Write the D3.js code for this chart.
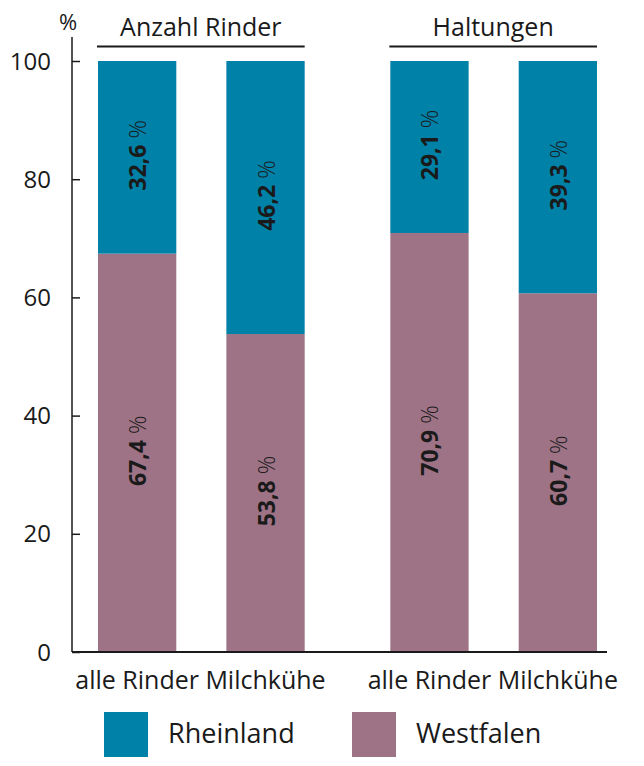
<!DOCTYPE html>
<html>
<head>
<meta charset="utf-8">
<script src="https://cdn.jsdelivr.net/npm/d3@7"></script>
<style>
  body { margin: 0; background: #fff; }
  text { font-family: "Open Sans", sans-serif; fill: #1a1a1a; }
</style>
</head>
<body>
<div id="chart"></div>
<script>
let groups = ["Anzahl Rinder", "Haltungen"];
let categories = ["alle Rinder", "Milchkühe"];
let rheinland = [32.6, 46.2, 29.1, 39.3];
let westfalen = [67.4, 53.8, 70.9, 60.7];
let yTicks = [0, 20, 40, 60, 80, 100];
let seriesNames = ["Rheinland", "Westfalen"];
let colors = ["#0081a7", "#9e7386"];

let width = 644;
let height = 766;

let svg = d3.select("#chart")
    .append("svg")
    .attr("width", width)
    .attr("height", height);

// scales
let yScale = d3.scaleLinear()
    .domain([0, 100])
    .range([652, 61]);

let groupScale = d3.scaleBand()
    .domain(groups)
    .range([98, 597])
    .paddingInner(0.293);

let catScale = d3.scaleBand()
    .domain(categories)
    .range([0, groupScale.bandwidth()])
    .paddingInner(0.39);

let bars = [];
groups.forEach((g, gi) => {
    categories.forEach((c, ci) => {
        let i = gi * categories.length + ci;
        bars.push({
            group: g,
            cat: c,
            x: groupScale(g) + catScale(c),
            west: westfalen[i],
            rhein: rheinland[i]
        });
    });
});

let fmt = (v) => String(v).replace(".", ",");

// Westfalen segments
svg.selectAll(".west")
    .data(bars)
    .enter()
    .append("rect")
    .attr("x", (d) => d.x)
    .attr("width", catScale.bandwidth())
    .attr("y", (d) => yScale(d.west))
    .attr("height", (d) => yScale(0) - yScale(d.west))
    .attr("fill", colors[1]);

// Rheinland segments
svg.selectAll(".rhein")
    .data(bars)
    .enter()
    .append("rect")
    .attr("x", (d) => d.x)
    .attr("width", catScale.bandwidth())
    .attr("y", (d) => yScale(d.west + d.rhein))
    .attr("height", (d) => yScale(d.west) - yScale(d.west + d.rhein))
    .attr("fill", colors[0]);

// value labels (rotated)
function addLabel(d, lo, hi, v) {
    let cx = d.x + catScale.bandwidth() / 2;
    let cy = (yScale(lo) + yScale(hi)) / 2;
    let t = svg.append("text")
        .attr("transform", "translate(" + (cx + 9) + "," + (cy - 2) + ") rotate(-90)")
        .attr("text-anchor", "middle")
        .style("font-size", "23px");
    t.append("tspan").style("font-weight", "bold").text(fmt(v));
    t.append("tspan").style("font-weight", "300").text(" %");
}
bars.forEach((d) => {
    addLabel(d, 0, d.west, d.west);
    addLabel(d, d.west, d.west + d.rhein, d.rhein);
});

// y-axis
let yAxis = d3.axisRight(yScale)
    .tickValues(yTicks)
    .tickSize(8)
    .tickFormat("");

let yg = svg.append("g")
    .attr("transform", "translate(72,0)")
    .call(yAxis);
yg.select(".domain").remove();
yg.selectAll("line").attr("stroke", "#1a1a1a").attr("stroke-width", 1.5);

svg.append("line")
    .attr("x1", 72).attr("x2", 72)
    .attr("y1", 37).attr("y2", yScale(0))
    .attr("stroke", "#1a1a1a").attr("stroke-width", 1.5);

svg.selectAll(".ytick")
    .data(yTicks)
    .enter()
    .append("text")
    .attr("x", 51)
    .attr("y", (d) => yScale(d))
    .attr("dy", "0.36em")
    .attr("text-anchor", "end")
    .style("font-size", "24px")
    .text((d) => d);

svg.append("text")
    .attr("x", 68)
    .attr("y", 30)
    .attr("text-anchor", "middle")
    .style("font-size", "22px")
    .text("%");

// x-axis
svg.append("line")
    .attr("x1", 72).attr("x2", 607)
    .attr("y1", yScale(0)).attr("y2", yScale(0))
    .attr("stroke", "#1a1a1a").attr("stroke-width", 2);

svg.selectAll(".xlab")
    .data(bars)
    .enter()
    .append("text")
    .attr("x", (d) => d.x + catScale.bandwidth() / 2)
    .attr("y", 689)
    .attr("text-anchor", "middle")
    .style("font-size", "25px")
    .text((d) => d.cat);

// group headers
groups.forEach((g) => {
    let x0 = groupScale(g) - 1;
    let x1 = groupScale(g) + groupScale.bandwidth();
    svg.append("line")
        .attr("x1", x0).attr("x2", x1)
        .attr("y1", 46.5).attr("y2", 46.5)
        .attr("stroke", "#1a1a1a").attr("stroke-width", 2);
    svg.append("text")
        .attr("x", (x0 + x1) / 2)
        .attr("y", 36)
        .attr("text-anchor", "middle")
        .style("font-size", "25px")
        .text(g);
});

// legend
let legendX = [104, 352];
seriesNames.forEach((s, i) => {
    svg.append("rect")
        .attr("x", legendX[i])
        .attr("y", 712)
        .attr("width", 44)
        .attr("height", 45)
        .attr("fill", colors[i]);
    svg.append("text")
        .attr("x", legendX[i] + 64)
        .attr("y", 743)
        .style("font-size", "27px")
        .text(s);
});
</script>
</body>
</html>
